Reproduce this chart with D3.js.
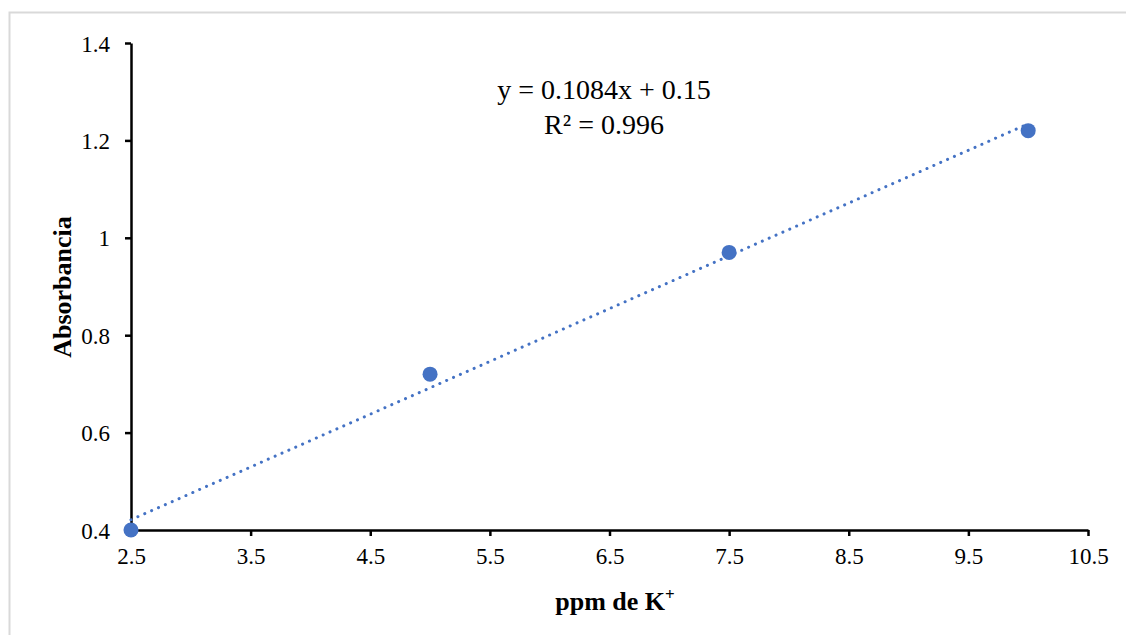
<!DOCTYPE html>
<html><head><meta charset="utf-8">
<script src="https://cdn.jsdelivr.net/npm/d3@7"></script>
<style>body{margin:0;background:#fff;} svg{display:block;}</style>
</head><body>
<script>
const xValues = [2.5, 5, 7.5, 10];
const yValues = [0.40, 0.72, 0.97, 1.22];
const xTicks = [2.5, 3.5, 4.5, 5.5, 6.5, 7.5, 8.5, 9.5, 10.5];
const yTicks = [0.4, 0.6, 0.8, 1.0, 1.2, 1.4];
const slope = 0.1084, intercept = 0.15;
const eqLines = ["y = 0.1084x + 0.15", "R² = 0.996"];

const W = 1126, H = 635;
const svg = d3.select("body").append("svg").attr("width", W).attr("height", H);
svg.append("rect").attr("x", 9.5).attr("y", 12.5).attr("width", W).attr("height", H)
  .attr("fill", "none").attr("stroke", "#d9d9d9").attr("stroke-width", 2);

const x = d3.scaleLinear().domain([2.5, 10.5]).range([131, 1088]);
const y = d3.scaleLinear().domain([0.4, 1.4]).range([530, 43]);
const font = "'Liberation Serif', 'Times New Roman', serif";

const xa = svg.append("g").attr("transform", "translate(0,530)")
  .call(d3.axisBottom(x).tickValues(xTicks).tickSize(6).tickSizeOuter(0).tickFormat(d3.format(".1f")));
const ya = svg.append("g").attr("transform", "translate(131,0)")
  .call(d3.axisLeft(y).tickValues(yTicks).tickSize(6).tickSizeOuter(0).tickFormat(d => d === 1 ? "1" : d3.format(".1f")(d)));
[xa, ya].forEach(a => {
  a.selectAll("path, line").attr("stroke", "#000").attr("stroke-width", 2.5);
  a.selectAll("text").attr("font-family", font).attr("font-size", 23).attr("fill", "#000");
});
xa.selectAll("text").attr("y", 16).attr("dy", "0.8em");
ya.selectAll("text").attr("x", -21).attr("dy", "0.35em");

// trendline
svg.append("line")
  .attr("x1", x(2.5)).attr("y1", y(slope * 2.5 + intercept))
  .attr("x2", x(10)).attr("y2", y(slope * 10 + intercept))
  .attr("stroke", "#4472C4").attr("stroke-width", 3)
  .attr("stroke-dasharray", "0.1 7.4").attr("stroke-linecap", "round");

svg.selectAll("circle.pt").data(xValues).join("circle")
  .attr("class", "pt")
  .attr("cx", d => x(d)).attr("cy", (d, i) => y(yValues[i]))
  .attr("r", 7.5).attr("fill", "#4472C4");

svg.selectAll("text.eq").data(eqLines).join("text")
  .attr("class", "eq")
  .attr("x", 604).attr("y", (d, i) => 99 + i * 35)
  .attr("text-anchor", "middle").attr("font-family", font).attr("font-size", 28).attr("fill", "#000")
  .text(d => d);

const xt = svg.append("text").attr("x", 615).attr("y", 610).attr("text-anchor", "middle")
  .attr("font-family", font).attr("font-size", 26).attr("font-weight", "bold");
xt.append("tspan").text("ppm de K");
xt.append("tspan").attr("font-size", 17).attr("dy", -10).text("+");
svg.append("text").attr("transform", "translate(71,287) rotate(-90)").attr("text-anchor", "middle")
  .attr("font-family", font).attr("font-size", 26).attr("font-weight", "bold")
  .text("Absorbancia");
</script>
</body></html>
